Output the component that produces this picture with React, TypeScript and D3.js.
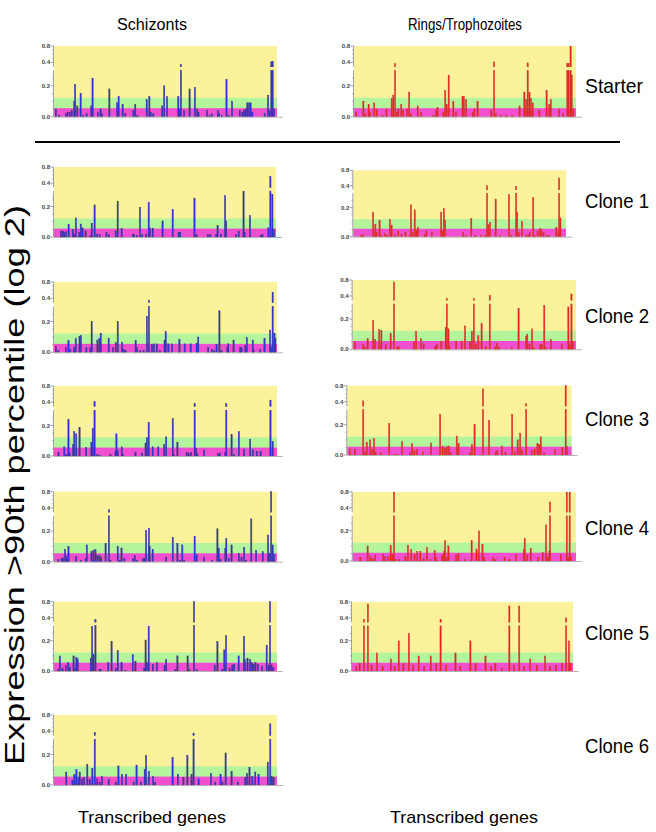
import React from 'react';
import * as d3 from 'd3';

type Bar = [number, number]; // [gene position (0-100 along the panel), expression value]

// ---------- Schizonts ----------
const schStarter: Bar[] = [[0.4,0.05],[1.9,0.01],[4.9,0.02],[5.7,0.03],[6.7,0.03],[7.6,0.04],[8.7,0.10],[9.1,0.21],[10.1,0.07],[11.6,0.15],[12.8,0.01],[14.3,0.02],[16.4,0.07],[17.0,0.25],[19.4,0.03],[20.6,0.05],[21.3,0.02],[24.6,0.18],[28.1,0.09],[28.8,0.13],[30.6,0.08],[31.8,0.02],[35.5,0.04],[36.3,0.08],[37.3,0.01],[41.5,0.11],[42.7,0.13],[43.3,0.03],[44.5,0.02],[48.5,0.07],[49.4,0.20],[50.7,0.13],[55.8,0.13],[56.4,0.05],[57.0,0.37],[58.4,0.04],[60.9,0.18],[63.3,0.19],[64.3,0.05],[64.9,0.03],[68.8,0.04],[69.9,0.01],[71.0,0.02],[73.7,0.04],[74.3,0.02],[75.5,0.01],[77.6,0.24],[78.5,0.01],[80.1,0.10],[83.6,0.04],[84.8,0.03],[85.5,0.04],[86.3,0.05],[87.0,0.09],[87.8,0.09],[88.5,0.09],[89.3,0.03],[94.9,0.02],[96.4,0.14],[97.0,0.04],[97.9,0.41],[98.5,0.42],[99.1,0.05]];
const schClone1: Bar[] = [[2.7,0.04],[3.5,0.04],[4.2,0.03],[5.0,0.035],[6.2,0.08],[8.1,0.05],[8.7,0.02],[9.5,0.125],[11.0,0.03],[11.7,0.085],[12.5,0.06],[13.9,0.04],[16.2,0.01],[16.7,0.09],[18.0,0.21],[19.2,0.02],[20.4,0.015],[23.4,0.03],[24.5,0.015],[27.6,0.04],[28.5,0.235],[30.3,0.055],[35.4,0.02],[36.0,0.015],[37.2,0.01],[38.6,0.195],[39.6,0.015],[41.4,0.02],[42.6,0.225],[43.1,0.06],[44.4,0.058],[48.9,0.105],[53.5,0.18],[56.2,0.03],[56.9,0.03],[63.4,0.255],[64.3,0.015],[69.5,0.015],[70.6,0.015],[73.3,0.015],[73.9,0.075],[75.5,0.02],[77.3,0.27],[77.8,0.105],[82.3,0.015],[83.5,0.04],[85.7,0.3],[86.2,0.03],[88.6,0.14],[93.5,0.01],[94.3,0.015],[97.0,0.06],[97.9,0.56],[98.8,0.28],[99.5,0.05]];
const schClone2: Bar[] = [[0.4,0.04],[1.5,0.01],[4.9,0.03],[6.1,0.075],[6.9,0.02],[8.7,0.03],[9.4,0.09],[11.1,0.105],[11.7,0.11],[14.2,0.03],[15.9,0.03],[16.6,0.2],[19.2,0.08],[20.1,0.09],[20.7,0.125],[24.3,0.09],[26.3,0.03],[27.5,0.065],[28.4,0.2],[30.4,0.065],[31.1,0.02],[32.0,0.01],[36.5,0.075],[37.1,0.03],[38.6,0.01],[40.1,0.01],[41.6,0.235],[42.5,0.37],[43.9,0.05],[44.8,0.055],[46.1,0.055],[47.5,0.01],[49.6,0.08],[50.1,0.135],[51.3,0.055],[53.0,0.055],[56.3,0.085],[58.7,0.055],[61.4,0.055],[64.1,0.06],[64.8,0.1],[69.3,0.03],[71.0,0.02],[72.0,0.01],[73.1,0.05],[74.4,0.27],[75.3,0.01],[78.0,0.03],[78.4,0.055],[80.8,0.08],[83.8,0.03],[84.4,0.03],[86.1,0.045],[86.8,0.095],[89.5,0.08],[89.8,0.02],[92.8,0.02],[94.8,0.09],[97.3,0.145],[97.9,0.03],[98.5,0.55],[99.3,0.125],[99.7,0.09]];
const schClone3: Bar[] = [[1.6,0.025],[4.2,0.06],[5.2,0.01],[6.1,0.24],[6.6,0.02],[8.2,0.075],[8.7,0.16],[9.6,0.145],[11.1,0.185],[14.1,0.055],[16.5,0.09],[17.1,0.18],[17.9,0.41],[19.2,0.01],[20.2,0.005],[25.1,0.012],[27.4,0.03],[27.8,0.145],[28.4,0.035],[30.2,0.06],[30.7,0.01],[36.4,0.025],[39.4,0.02],[41.0,0.085],[41.6,0.12],[42.4,0.22],[44.2,0.06],[46.7,0.06],[49.4,0.075],[50.3,0.125],[53.3,0.245],[53.9,0.01],[55.4,0.09],[59.6,0.025],[60.5,0.015],[61.5,0.025],[63.2,0.38],[63.8,0.05],[64.4,0.015],[67.4,0.04],[73.8,0.015],[74.6,0.02],[77.1,0.025],[77.5,0.38],[79.9,0.14],[81.0,0.01],[83.2,0.16],[85.5,0.045],[88.3,0.11],[89.5,0.04],[91.3,0.03],[93.0,0.03],[97.5,0.45],[98.5,0.095]];
const schClone4: Bar[] = [[1.5,0.015],[3.0,0.02],[3.7,0.025],[4.5,0.08],[5.1,0.035],[5.7,0.015],[6.1,0.1],[9.6,0.035],[11.7,0.01],[13.9,0.02],[14.4,0.11],[16.5,0.065],[17.4,0.075],[18.3,0.08],[19.2,0.04],[20.1,0.04],[20.9,0.03],[22.9,0.12],[24.4,0.37],[25.1,0.01],[28.4,0.1],[29.3,0.01],[30.1,0.09],[31.4,0.02],[35.3,0.02],[36.1,0.04],[37.1,0.01],[39.8,0.02],[40.6,0.02],[41.2,0.205],[42.5,0.22],[42.8,0.1],[44.2,0.08],[50.3,0.03],[53.3,0.16],[55.4,0.12],[56.6,0.01],[57.6,0.11],[58.5,0.01],[63.2,0.165],[64.1,0.045],[67.4,0.03],[71.1,0.01],[73.5,0.215],[74.1,0.085],[74.9,0.015],[77.1,0.085],[77.5,0.15],[78.7,0.02],[79.9,0.11],[83.2,0.055],[84.4,0.03],[85.6,0.095],[86.5,0.01],[88.8,0.28],[91.0,0.075],[94.0,0.065],[96.4,0.175],[97.0,0.055],[97.8,0.8],[98.5,0.11],[99.1,0.05]];
const schClone5: Bar[] = [[1.5,0.01],[2.2,0.1],[3.4,0.02],[4.9,0.035],[6.0,0.055],[6.7,0.025],[8.4,0.1],[9.0,0.015],[9.7,0.09],[10.2,0.08],[16.2,0.085],[16.8,0.295],[17.4,0.11],[18.3,0.37],[20.2,0.01],[20.7,0.01],[24.1,0.055],[25.6,0.195],[27.5,0.02],[28.4,0.135],[30.1,0.055],[31.9,0.005],[35.2,0.11],[36.4,0.065],[40.4,0.02],[41.0,0.205],[41.6,0.055],[42.4,0.295],[44.3,0.045],[46.1,0.055],[49.6,0.035],[50.3,0.075],[54.5,0.01],[55.4,0.1],[60.0,0.1],[60.8,0.01],[62.9,0.8],[64.1,0.01],[72.3,0.04],[73.5,0.195],[75.7,0.01],[76.6,0.14],[77.4,0.235],[79.0,0.02],[80.2,0.04],[81.0,0.045],[83.1,0.1],[85.5,0.23],[85.9,0.075],[87.1,0.085],[88.3,0.075],[89.1,0.055],[89.8,0.045],[90.7,0.055],[91.8,0.045],[93.7,0.03],[95.8,0.17],[96.7,0.035],[97.3,0.8],[98.0,0.04],[98.8,0.025]];
const schClone6: Bar[] = [[5.1,0.085],[7.9,0.03],[8.8,0.07],[9.7,0.1],[10.7,0.05],[11.2,0.085],[12.2,0.04],[13.1,0.05],[14.6,0.135],[15.7,0.035],[16.9,0.11],[18.0,0.38],[19.1,0.04],[20.2,0.02],[21.3,0.055],[24.3,0.035],[27.5,0.02],[28.7,0.125],[30.3,0.07],[32.2,0.07],[35.6,0.02],[36.9,0.13],[38.9,0.02],[40.6,0.1],[41.2,0.195],[42.5,0.09],[44.4,0.055],[45.3,0.02],[53.2,0.18],[55.6,0.07],[58.1,0.05],[59.9,0.195],[61.8,0.07],[62.7,0.37],[65.0,0.04],[70.6,0.075],[72.5,0.02],[74.9,0.07],[75.8,0.02],[77.2,0.21],[79.9,0.09],[82.8,0.02],[86.1,0.05],[86.9,0.075],[88.0,0.115],[89.3,0.055],[90.6,0.085],[92.1,0.07],[96.3,0.15],[97.4,0.58],[98.1,0.055],[98.9,0.05]];

// ---------- Rings / Trophozoites ----------
const ringStarter: Bar[] = [[0.5,0.03],[3.8,0.10],[4.7,0.02],[6.2,0.08],[6.9,0.03],[8.7,0.09],[9.8,0.05],[12.5,0.01],[14.3,0.05],[16.7,0.12],[17.4,0.14],[18.2,0.38],[18.9,0.03],[19.7,0.05],[21.0,0.08],[21.9,0.04],[23.7,0.05],[24.6,0.16],[25.5,0.02],[28.5,0.07],[30.0,0.03],[35.7,0.01],[36.9,0.04],[37.5,0.06],[40.2,0.03],[41.0,0.17],[41.7,0.08],[42.6,0.27],[44.7,0.10],[45.9,0.03],[48.9,0.13],[49.5,0.13],[50.5,0.11],[53.5,0.03],[54.2,0.05],[55.7,0.10],[62.0,0.04],[63.2,0.41],[64.0,0.02],[66.4,0.01],[68.8,0.01],[71.5,0.01],[74.8,0.07],[77.0,0.16],[77.8,0.11],[78.5,0.39],[79.3,0.16],[80.0,0.12],[80.8,0.09],[83.8,0.04],[87.1,0.17],[88.3,0.08],[89.0,0.11],[92.8,0.05],[94.6,0.02],[96.5,0.38],[97.1,0.38],[98.0,0.8],[98.5,0.27],[99.2,0.05]];
const ringClone1: Bar[] = [[3.1,0.01],[4.2,0.015],[8.9,0.17],[10.0,0.085],[10.5,0.03],[12.0,0.115],[12.9,0.01],[14.6,0.025],[15.7,0.01],[16.9,0.12],[17.7,0.08],[19.3,0.015],[20.8,0.04],[22.4,0.015],[24.3,0.03],[26.3,0.01],[26.9,0.22],[27.7,0.03],[28.7,0.185],[29.5,0.045],[30.3,0.065],[33.4,0.015],[34.2,0.04],[36.8,0.03],[41.2,0.17],[41.8,0.04],[42.5,0.195],[43.1,0.115],[51.7,0.03],[53.0,0.01],[55.5,0.125],[57.5,0.01],[60.3,0.01],[62.1,0.01],[63.0,0.40],[63.6,0.085],[64.4,0.1],[67.1,0.26],[69.0,0.01],[73.4,0.29],[74.5,0.01],[76.8,0.39],[77.3,0.17],[78.1,0.03],[79.6,0.105],[81.5,0.01],[82.6,0.015],[83.4,0.03],[84.9,0.27],[85.7,0.01],[87.0,0.04],[88.1,0.055],[88.7,0.05],[89.8,0.03],[91.2,0.01],[92.5,0.01],[95.9,0.065],[96.9,0.03],[97.2,0.6],[97.8,0.13]];
const ringClone2: Bar[] = [[0.6,0.05],[4.3,0.03],[5.1,0.015],[6.3,0.07],[8.8,0.19],[9.7,0.065],[11.5,0.13],[12.5,0.125],[14.5,0.03],[16.7,0.105],[18.2,0.75],[19.7,0.015],[20.4,0.02],[27.2,0.05],[28.2,0.12],[30.4,0.07],[31.6,0.035],[36.9,0.02],[37.6,0.035],[39.6,0.05],[41.6,0.145],[42.1,0.36],[42.8,0.135],[43.3,0.02],[46.3,0.055],[48.8,0.055],[50.3,0.155],[52.5,0.05],[53.4,0.12],[54.3,0.36],[55.2,0.035],[56.3,0.09],[57.8,0.17],[59.7,0.02],[61.5,0.42],[64.0,0.015],[64.8,0.04],[65.7,0.015],[71.5,0.01],[74.5,0.27],[77.9,0.085],[78.4,0.1],[79.4,0.035],[80.6,0.135],[81.2,0.01],[84.2,0.03],[84.9,0.03],[86.1,0.29],[86.9,0.01],[89.1,0.065],[94.0,0.035],[97.0,0.28],[97.6,0.03],[98.4,0.45],[99.1,0.05]];
const ringClone3: Bar[] = [[0.7,0.04],[3.0,0.04],[6.7,0.42],[7.6,0.02],[8.3,0.085],[9.8,0.1],[10.8,0.035],[11.6,0.11],[12.3,0.02],[14.6,0.015],[18.4,0.21],[21.2,0.005],[22.3,0.005],[24.2,0.09],[27.9,0.015],[28.7,0.075],[29.7,0.03],[30.9,0.04],[33.6,0.02],[37.2,0.08],[41.3,0.27],[42.5,0.06],[43.5,0.045],[44.3,0.055],[45.2,0.06],[46.1,0.015],[48.8,0.125],[49.6,0.075],[54.7,0.02],[55.6,0.07],[56.8,0.2],[60.6,0.72],[63.3,0.23],[66.3,0.02],[67.0,0.03],[69.1,0.06],[70.7,0.02],[73.7,0.27],[74.9,0.02],[76.2,0.1],[77.3,0.145],[78.2,0.03],[80.0,0.37],[82.5,0.03],[83.8,0.04],[85.1,0.075],[85.9,0.07],[86.6,0.12],[88.1,0.015],[93.0,0.035],[96.3,0.05],[97.8,0.8],[98.4,0.055]];
const ringClone4: Bar[] = [[3.0,0.025],[6.3,0.1],[7.5,0.03],[8.5,0.02],[9.7,0.04],[13.3,0.045],[14.2,0.03],[15.5,0.03],[16.7,0.105],[17.5,0.045],[18.2,0.8],[19.0,0.01],[20.6,0.01],[23.4,0.03],[24.5,0.105],[26.0,0.075],[27.5,0.045],[28.7,0.065],[30.1,0.065],[31.6,0.015],[33.1,0.09],[34.6,0.01],[36.6,0.07],[37.3,0.025],[39.9,0.035],[40.3,0.04],[40.9,0.065],[41.3,0.135],[42.1,0.025],[42.8,0.1],[46.3,0.04],[47.3,0.05],[50.3,0.01],[53.3,0.135],[55.5,0.08],[56.6,0.2],[58.2,0.11],[59.0,0.025],[63.0,0.025],[64.0,0.01],[68.2,0.025],[70.4,0.01],[73.4,0.045],[76.9,0.075],[77.3,0.15],[78.4,0.04],[80.0,0.085],[83.3,0.025],[85.4,0.055],[86.9,0.24],[87.6,0.025],[88.4,0.065],[88.7,0.55],[93.6,0.045],[96.3,0.8],[96.9,0.025],[97.6,0.8],[98.1,0.03]];
const ringClone5: Bar[] = [[1.5,0.03],[3.0,0.05],[5.0,0.38],[6.8,0.75],[8.5,0.04],[10.9,0.12],[13.5,0.03],[17.3,0.08],[19.0,0.03],[20.9,0.2],[23.0,0.05],[25.5,0.25],[27.5,0.04],[30.0,0.1],[32.5,0.03],[35.5,0.1],[38.0,0.05],[40.0,0.38],[42.5,0.04],[46.8,0.12],[49.0,0.03],[53.6,0.2],[56.0,0.05],[60.5,0.1],[63.0,0.03],[65.0,0.05],[68.0,0.02],[71.4,0.7],[73.5,0.04],[75.9,0.7],[78.0,0.03],[80.9,0.08],[84.0,0.04],[87.7,0.1],[90.0,0.03],[92.7,0.04],[95.5,0.05],[97.3,0.4],[98.6,0.2],[99.3,0.05]];

// ---------- labels ----------
const columnTitles = ['Schizonts', 'Rings/Trophozoites'];
const rowLabels = ['Starter', 'Clone 1', 'Clone 2', 'Clone 3', 'Clone 4', 'Clone 5', 'Clone 6'];
const xAxisTitle = 'Transcribed genes';
const yAxisTitle = 'Expression >90th percentile (log 2)';
const yTickValues = [0, 0.2, 0.4, 0.8];
const yTickLabels = ['0.0', '0.2', '0.4', '0.8'];
const yMinorTicks = [0.05, 0.1, 0.15, 0.25, 0.5, 0.6, 0.7];
const magentaLimit = 0.055;
const greenLimit = 0.122;

// broken axis: linear below the break, compressed above
const Y_DOMAIN = [0, 0.3, 0.33, 0.4, 0.8];
const Y_FRAC = [0, 0.655, 0.705, 0.77, 1];
const BREAK_LO = 0.3;
const BREAK_HI = 0.33;

const YELLOW = '#fcf29c';
const GREEN = '#b4f59c';
const MAGENTA = '#f050cf';

type PanelSpec = { left: number; top: number; width: number; height: number; bars: Bar[] };

const leftPanels: PanelSpec[] = [
  { left: 54, top: 46, width: 223, height: 70.7, bars: schStarter },
  { left: 54, top: 167, width: 222, height: 70, bars: schClone1 },
  { left: 54, top: 282, width: 223, height: 70.3, bars: schClone2 },
  { left: 54, top: 386, width: 223, height: 70, bars: schClone3 },
  { left: 54, top: 491.7, width: 223, height: 70, bars: schClone4 },
  { left: 54, top: 601.7, width: 223, height: 69.3, bars: schClone5 },
  { left: 54, top: 715, width: 223, height: 70, bars: schClone6 },
];
const rightPanels: PanelSpec[] = [
  { left: 354, top: 46, width: 222, height: 70.7, bars: ringStarter },
  { left: 353.3, top: 170.3, width: 212.7, height: 66.4, bars: ringClone1 },
  { left: 352.7, top: 280, width: 223.3, height: 69.3, bars: ringClone2 },
  { left: 347.3, top: 385.7, width: 224.3, height: 69.3, bars: ringClone3 },
  { left: 352.7, top: 492, width: 223.3, height: 69, bars: ringClone4 },
  { left: 352, top: 602, width: 221, height: 69, bars: ringClone5 },
];
const rowLabelBaselines = [93, 208, 323, 426, 535, 640, 753];

function Panel({ spec, fill, edge }: { spec: PanelSpec; fill: string; edge: string }) {
  const { left, top, width, height, bars } = spec;
  const bottom = top + height;
  const x = d3.scaleLinear().domain([0, 100]).range([left + 1, left + width - 1]);
  const y = d3.scaleLinear().domain(Y_DOMAIN).range(Y_FRAC.map((f) => bottom - f * height));
  const bw = 1.3;
  const segs: { x: number; y0: number; y1: number }[] = [];
  bars.forEach(([g, v]) => {
    const cx = x(g);
    segs.push({ x: cx, y0: y(0), y1: y(Math.min(v, BREAK_LO)) });
    if (v > BREAK_HI) segs.push({ x: cx, y0: y(BREAK_HI), y1: y(v) });
  });
  const axisX = left - 0.5;
  return (
    <g>
      <rect x={left} y={top} width={width} height={height} fill={YELLOW} />
      <rect x={left} y={y(greenLimit)} width={width} height={bottom - y(greenLimit)} fill={GREEN} />
      <rect x={left} y={y(magentaLimit)} width={width} height={bottom - y(magentaLimit)} fill={MAGENTA} />
      {segs.map((s, i) => (
        <rect key={i} x={s.x - bw / 2} y={s.y1} width={bw} height={Math.max(0.6, s.y0 - s.y1)}
          fill={fill} stroke={edge} strokeWidth={0.4} />
      ))}
      {/* y axis with break */}
      <line x1={axisX} x2={axisX} y1={y(0)} y2={y(BREAK_LO)} stroke="#8a8a8a" strokeWidth={0.8} />
      <line x1={axisX} x2={axisX} y1={y(BREAK_HI)} y2={y(0.8)} stroke="#8a8a8a" strokeWidth={0.8} />
      {yMinorTicks.map((t) => (
        <line key={'m' + t} x1={axisX - 1.5} x2={axisX} y1={y(t)} y2={y(t)} stroke="#8a8a8a" strokeWidth={0.6} />
      ))}
      {yTickValues.map((t, i) => (
        <g key={'t' + t}>
          <line x1={axisX - 3} x2={axisX} y1={y(t)} y2={y(t)} stroke="#777" strokeWidth={0.7} />
          <text x={axisX - 3.5} y={y(t)} dy="0.35em" textAnchor="end" fontSize={6} fontWeight="bold"
            fontFamily="Liberation Sans, Arial, sans-serif" fill="#444">{yTickLabels[i]}</text>
        </g>
      ))}
      {/* x axis */}
      <line x1={left} x2={left + width + 6} y1={bottom + 0.5} y2={bottom + 0.5} stroke="#a0a0a0" strokeWidth={0.8} />
    </g>
  );
}

export default function App() {
  const font = 'Liberation Sans, Arial, Helvetica, sans-serif';
  return (
    <svg width={656} height={832} style={{ position: 'absolute', left: 0, top: 0, background: '#fff' }}>
      <rect width={656} height={832} fill="#fff" />
      <text x={152} y={30} textAnchor="middle" fontSize={16} fontFamily={font} textLength={70} lengthAdjust="spacingAndGlyphs">{columnTitles[0]}</text>
      <text x={465} y={30} textAnchor="middle" fontSize={16} fontFamily={font} textLength={114} lengthAdjust="spacingAndGlyphs">{columnTitles[1]}</text>
      <line x1={35} x2={620} y1={142} y2={142} stroke="#000" strokeWidth={2} />
      {leftPanels.map((p, i) => (
        <Panel key={'l' + i} spec={p} fill="#3030e8" edge="#3c3c70" />
      ))}
      {rightPanels.map((p, i) => (
        <Panel key={'r' + i} spec={p} fill="#ee1f25" edge="#c8402e" />
      ))}
      {rowLabels.map((t, i) => (
        <text key={t} x={585} y={rowLabelBaselines[i]} fontSize={21} fontFamily={font}
          textLength={t === 'Starter' ? 58 : 64} lengthAdjust="spacingAndGlyphs">{t}</text>
      ))}
      <text x={152} y={823} textAnchor="middle" fontSize={17} fontFamily={font} textLength={148} lengthAdjust="spacingAndGlyphs">{xAxisTitle}</text>
      <text x={464} y={823} textAnchor="middle" fontSize={17} fontFamily={font} textLength={148} lengthAdjust="spacingAndGlyphs">{xAxisTitle}</text>
      <text transform="translate(24,485) rotate(-90)" textAnchor="middle" fontSize={27} fontFamily={font}
        textLength={560} lengthAdjust="spacingAndGlyphs">{yAxisTitle}</text>
    </svg>
  );
}
